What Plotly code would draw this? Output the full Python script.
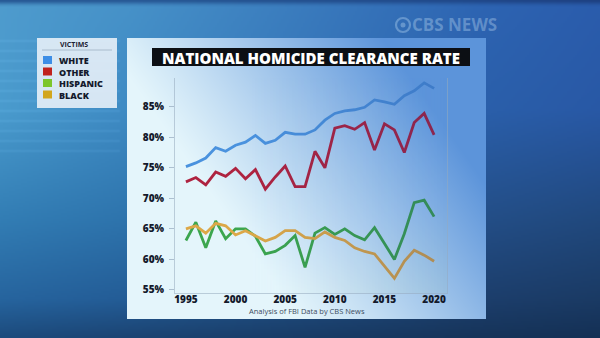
import numpy as np
import zlib, struct, base64
import plotly.graph_objects as go

# ---------------- data ----------------
years = list(range(1995, 2021))
white = [75.2, 75.8, 76.6, 78.3, 77.7, 78.7, 79.2, 80.3, 79.0, 79.5, 80.8, 80.5, 80.5,
         81.2, 82.8, 83.9, 84.3, 84.5, 84.9, 86.1, 85.8, 85.4, 86.8, 87.6, 88.9, 88.0]
other = [72.7, 73.4, 72.2, 74.3, 73.6, 74.9, 73.2, 74.7, 71.5, 73.5, 75.3, 71.9, 71.9,
         77.7, 75.0, 81.5, 81.9, 81.3, 82.4, 77.9, 82.2, 81.2, 77.5, 82.4, 83.9, 80.4]
hispanic = [63.1, 66.1, 61.9, 66.3, 63.4, 65.0, 65.0, 63.8, 60.9, 61.3, 62.3, 63.9, 58.7,
            64.3, 65.2, 64.1, 65.0, 63.9, 63.2, 65.2, 62.6, 60.0, 64.2, 69.3, 69.7, 67.0]
black = [65.0, 65.5, 64.3, 65.9, 65.5, 64.0, 64.7, 63.8, 63.0, 63.6, 64.7, 64.7, 63.6,
         63.4, 64.5, 63.6, 63.1, 61.9, 61.3, 60.9, 58.9, 56.9, 59.7, 61.5, 60.7, 59.7]
series_names = ["WHITE", "OTHER", "HISPANIC", "BLACK"]
series_values = [white, other, hispanic, black]
y_ticks = [55, 60, 65, 70, 75, 80, 85]
y_tick_labels = ["55%", "60%", "65%", "70%", "75%", "80%", "85%"]
x_ticks = [1995, 2000, 2005, 2010, 2015, 2020]

# ---------------- styles ----------------
line_colors = ["#4a92de", "#ae2340", "#3ca64e", "#dca848"]
legend_colors = ["#3d8ee6", "#c0221c", "#7cc62c", "#d2a61c"]

W, H = 600, 338
L, R, T, B = 175, 447, 78, 293


def px2x(px):
    return (px - L) / (R - L)


def py2y(py):
    return (B - py) / (B - T)


def to_png_uri(arr):
    arr = np.clip(np.round(arr), 0, 255).astype(np.uint8)
    h, w, nc = arr.shape
    ctype = 6 if nc == 4 else 2
    raw = b"".join(b"\x00" + arr[i].tobytes() for i in range(h))

    def chunk(t, d):
        c = struct.pack(">I", len(d)) + t + d
        return c + struct.pack(">I", zlib.crc32(t + d) & 0xFFFFFFFF)

    png = (b"\x89PNG\r\n\x1a\n"
           + chunk(b"IHDR", struct.pack(">IIBBBBB", w, h, 8, ctype, 0, 0, 0))
           + chunk(b"IDAT", zlib.compress(raw, 9))
           + chunk(b"IEND", b""))
    return "data:image/png;base64," + base64.b64encode(png).decode()


def grid_interp(xs, ys, cols, gw, gh, full_w, full_h):
    cols = np.array(cols, dtype=float)
    gx = np.linspace(0, full_w, gw)
    gy = np.linspace(0, full_h, gh)
    tmp = np.zeros((len(ys), gw, 3))
    for i in range(len(ys)):
        for c in range(3):
            tmp[i, :, c] = np.interp(gx, xs, cols[i, :, c])
    out = np.zeros((gh, gw, 3))
    for j in range(gw):
        for c in range(3):
            out[:, j, c] = np.interp(gy, ys, tmp[:, j, c])
    return out


# studio background
bx = [0, 130, 480, 600]
by = [0, 5, 110, 220, 300, 338]
bc = [
    [(40, 90, 150), (40, 90, 150), (32, 72, 138), (30, 65, 130)],
    [(78, 155, 205), (70, 145, 200), (45, 100, 178), (42, 92, 172)],
    [(74, 155, 205), (62, 138, 195), (42, 95, 170), (40, 88, 165)],
    [(50, 125, 180), (45, 115, 172), (35, 78, 135), (32, 72, 125)],
    [(38, 100, 158), (35, 92, 150), (28, 62, 108), (26, 58, 100)],
    [(28, 75, 125), (27, 68, 115), (22, 52, 90), (20, 48, 85)],
]
bg = grid_interp(bx, by, bc, 300, 169, W, H)
for yy in range(20, 80, 5):
    bg[yy, 0:60] += 8
bg_uri = to_png_uri(bg)

# card gradient (full resolution, pixel aligned)
cx0, cx1, cy0, cy1 = 127, 486, 38, 319
cw, ch = cx1 - cx0, cy1 - cy0
xx = (np.arange(cw) + cx0 + 0.5)[None, :]
yy = (np.arange(ch) + cy0 + 0.5)[:, None]
t = ((xx - 250) / 240) * 0.85 + ((250 - yy) / 220) * 0.55
t = np.clip(t, 0, 1) ** 1.1
light = np.array([228, 245, 251], dtype=float)
blue = np.array([92, 148, 218], dtype=float)
card = light[None, None, :] * (1 - t[..., None]) + blue[None, None, :] * t[..., None]

# lighting overlay over the plot area (darkens the lines toward the right)
ov_col = np.array([25, 50, 130], dtype=float)
pw, ph = R - L, B - T
ox = (np.arange(pw) + L + 0.5)[None, :]
alpha = 0.25 * np.clip((ox - 250) / (R - 250), 0, 1) * np.ones((ph, 1))
overlay = np.zeros((ph, pw, 4))
overlay[..., :3] = ov_col
overlay[..., 3] = alpha * 255
# compensate card under the overlay so the background keeps its look
sub = card[T - cy0:B - cy0, L - cx0:R - cx0, :]
a3 = alpha[..., None]
card[T - cy0:B - cy0, L - cx0:R - cx0, :] = (sub - a3 * ov_col) / (1 - a3)
card_uri = to_png_uri(card)
overlay_uri = to_png_uri(overlay)

fig = go.Figure()
for name, vals, col in zip(series_names, series_values, line_colors):
    fig.add_trace(go.Scatter(x=years, y=vals, mode="lines", name=name,
                             line=dict(color=col, width=2.8), showlegend=False))

images = [
    dict(source=bg_uri, xref="paper", yref="paper", x=px2x(0), y=py2y(0),
         sizex=px2x(W) - px2x(0), sizey=py2y(0) - py2y(H), sizing="stretch",
         xanchor="left", yanchor="top", layer="below"),
    dict(source=card_uri, xref="paper", yref="paper", x=px2x(cx0), y=py2y(cy0),
         sizex=px2x(cx1) - px2x(cx0), sizey=py2y(cy0) - py2y(cy1), sizing="stretch",
         xanchor="left", yanchor="top", layer="below"),
    dict(source=overlay_uri, xref="paper", yref="paper", x=0, y=1, sizex=1, sizey=1,
         sizing="stretch", xanchor="left", yanchor="top", layer="above"),
]

shapes = []
annotations = []


def txt(text, px, py, size, color, weight=400, xanchor="center", align="center"):
    annotations.append(dict(text=text, xref="paper", yref="paper", x=px2x(px), y=py2y(py),
                            xanchor=xanchor, yanchor="middle", showarrow=False, align=align,
                            font=dict(family="Open Sans", size=size, color=color,
                                      weight=weight)))


# title bar
shapes.append(dict(type="rect", xref="paper", yref="paper", x0=px2x(152), x1=px2x(470),
                   y0=py2y(66), y1=py2y(48), fillcolor="#0c0f14", line=dict(width=0)))
txt("NATIONAL HOMICIDE CLEARANCE RATE", 311, 57.5, 15, "white", 800)

# legend box
shapes.append(dict(type="rect", xref="paper", yref="paper", x0=px2x(37), x1=px2x(117),
                   y0=py2y(108), y1=py2y(38), fillcolor="rgba(226,237,246,0.93)",
                   line=dict(width=0)))
shapes.append(dict(type="line", xref="paper", yref="paper", x0=px2x(42), x1=px2x(112),
                   y0=py2y(50), y1=py2y(50), line=dict(color="rgba(140,160,180,0.6)", width=1)))
txt("VICTIMS", 74, 44.5, 7, "#1c2233", 700)
row_y = [60, 71.5, 83, 94.5]
for col, ry in zip(legend_colors, row_y):
    shapes.append(dict(type="rect", xref="paper", yref="paper", x0=px2x(43), x1=px2x(52),
                       y0=py2y(ry + 4), y1=py2y(ry - 4), fillcolor=col, line=dict(width=0)))
txt("<br>".join(series_names), 57, sum(row_y) / 4 + 0.5, 9, "#141a2c", 800,
    xanchor="left", align="left")

# caption
txt("Analysis of FBI Data by CBS News", 307, 310.5, 7.5, "#3c4c60")

# CBS NEWS watermark
wm = "rgba(185,215,242,0.38)"
shapes.append(dict(type="circle", xref="paper", yref="paper", x0=px2x(396), x1=px2x(410),
                   y0=py2y(32), y1=py2y(18), line=dict(color=wm, width=2.2),
                   fillcolor="rgba(0,0,0,0)"))
shapes.append(dict(type="circle", xref="paper", yref="paper", x0=px2x(400.5), x1=px2x(405.5),
                   y0=py2y(27.5), y1=py2y(22.5), line=dict(width=0), fillcolor=wm))
txt("CBS NEWS", 410, 25, 17, wm, 700, xanchor="left")

fig.update_layout(
    width=W, height=H,
    margin=dict(l=L, r=W - R, t=T, b=H - B, pad=0),
    paper_bgcolor="#2a6aa8",
    plot_bgcolor="rgba(0,0,0,0)",
    images=images, shapes=shapes, annotations=annotations,
    showlegend=False,
    xaxis=dict(range=[1993.9, 2021.3], tickvals=x_ticks, showgrid=False, zeroline=False,
               showline=True, linecolor="rgba(150,170,190,0.55)", linewidth=1,
               ticks="", ticklabelstandoff=-3,
               tickfont=dict(family="Open Sans", size=10, color="#141a2c", weight=800)),
    yaxis=dict(range=[54.5, 89.7], tickvals=y_ticks, ticktext=y_tick_labels, showgrid=False,
               zeroline=False, showline=True, mirror=True, linecolor="rgba(150,170,190,0.55)",
               linewidth=1, ticks="outside", ticklen=5, tickcolor="rgba(150,170,190,0.7)",
               ticklabelstandoff=3,
               tickfont=dict(family="Open Sans", size=10, color="#141a2c", weight=800)),
)

fig.write_html("out.html")
